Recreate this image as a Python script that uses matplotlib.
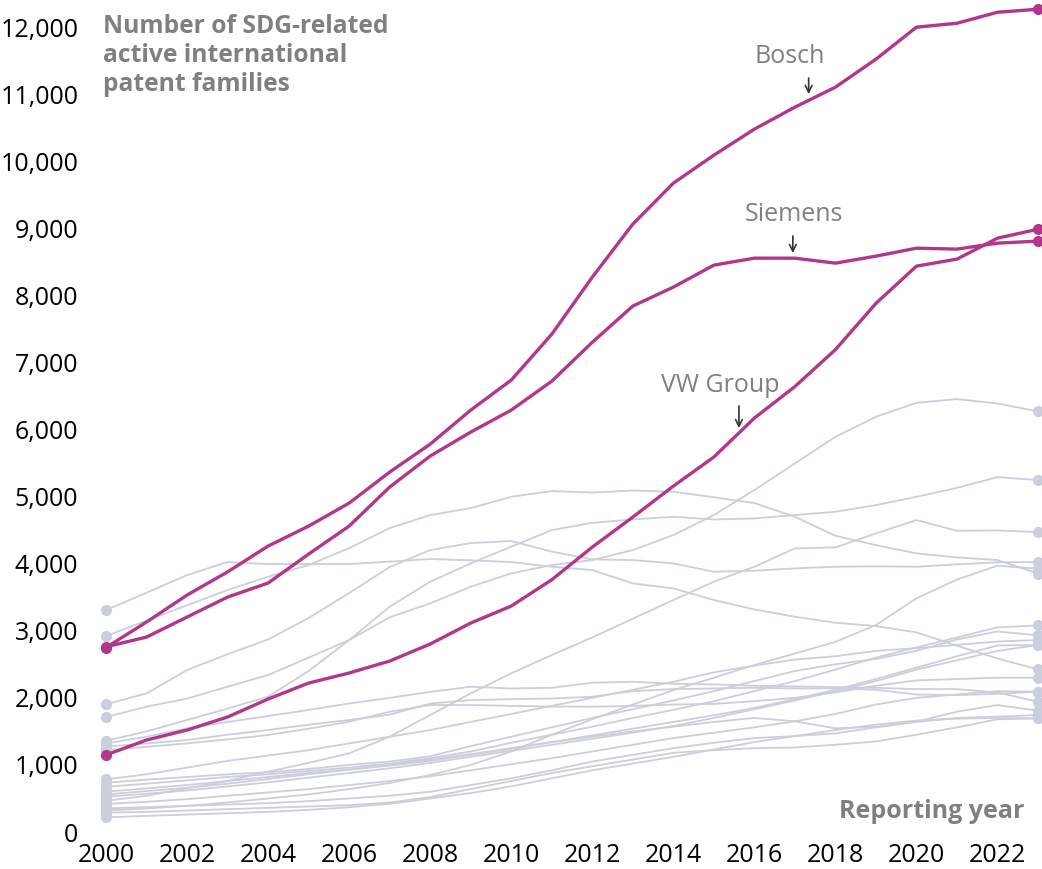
import matplotlib
matplotlib.use("Agg")
import matplotlib.pyplot as plt
import numpy as np
from matplotlib.ticker import FuncFormatter

plt.rcParams["font.family"] = ["Open Sans", "DejaVu Sans"]

years = list(range(2000, 2024))

bosch = [2750, 3130, 3532, 3877, 4262, 4560, 4903, 5365, 5782, 6289, 6736, 7420, 8270,
         9061, 9672, 10089, 10477, 10805, 11103, 11520, 11997, 12056, 12220, 12265]
siemens = [2760, 2906, 3204, 3502, 3711, 4143, 4560, 5142, 5604, 5961, 6289, 6720, 7300,
           7840, 8122, 8450, 8554, 8554, 8480, 8584, 8703, 8689, 8778, 8808]
vw_group = [1148, 1371, 1520, 1714, 1982, 2220, 2370, 2548, 2802, 3115, 3368, 3760, 4247,
            4694, 5156, 5589, 6170, 6640, 7190, 7880, 8435, 8540, 8852, 8986]

# other companies (background)
others = [
    [3308, 3567, 3830, 4024, 3994, 3994, 3994, 4030, 4069, 4050, 4024, 3954, 3905,
     3706, 3631, 3458, 3318, 3209, 3120, 3070, 2976, 2776, 2586, 2424],
    [2921, 3150, 3380, 3607, 3805, 3979, 4232, 4530, 4724, 4828, 4997, 5082, 5060,
     5090, 5072, 4990, 4903, 4699, 4415, 4277, 4153, 4093, 4054, 3852],
    [1903, 2066, 2414, 2650, 2870, 3190, 3562, 3950, 4203, 4307, 4337, 4180, 4064,
     4054, 4004, 3880, 3895, 3930, 3954, 3960, 3954, 3990, 4020, 4024],
    [1714, 1868, 1989, 2166, 2340, 2600, 2861, 3200, 3408, 3656, 3855, 3979, 4054,
     4203, 4426, 4724, 5097, 5494, 5891, 6189, 6398, 6453, 6388, 6270],
    [1361, 1500, 1669, 1840, 2017, 2400, 2861, 3358, 3731, 4004, 4252, 4501, 4609,
     4659, 4699, 4659, 4674, 4724, 4774, 4873, 4997, 5130, 5290, 5246],
    [466, 540, 650, 760, 900, 1030, 1173, 1420, 1744, 2066, 2365, 2638, 2900,
     3180, 3458, 3731, 3954, 4228, 4243, 4451, 4650, 4491, 4495, 4471],
    [320, 350, 390, 440, 500, 560, 640, 730, 850, 1000, 1200, 1450, 1680,
     1900, 2116, 2300, 2489, 2660, 2834, 3085, 3483, 3763, 3970, 3925],
    [1321, 1420, 1545, 1640, 1729, 1820, 1915, 2000, 2088, 2165, 2139, 2150, 2225,
     2240, 2210, 2200, 2180, 2170, 2160, 2150, 2130, 2130, 2080, 1942],
    [1272, 1320, 1371, 1450, 1520, 1600, 1669, 1750, 1915, 1967, 1980, 1990, 2017,
     2100, 2130, 2140, 2150, 2140, 2140, 2120, 2050, 2040, 2060, 2091],
    [1222, 1270, 1321, 1380, 1446, 1540, 1643, 1793, 1893, 1893, 1880, 1870, 1868,
     1880, 1900, 1910, 1950, 2000, 2080, 2180, 2260, 2280, 2300, 2300],
    [785, 860, 960, 1060, 1140, 1220, 1320, 1420, 1520, 1640, 1760, 1880, 2000,
     2120, 2240, 2380, 2480, 2570, 2620, 2700, 2740, 2790, 2840, 2861],
    [735, 780, 820, 860, 890, 940, 1000, 1050, 1130, 1280, 1420, 1560, 1700,
     1830, 1960, 2100, 2250, 2400, 2500, 2580, 2700, 2870, 2990, 2931],
    [675, 720, 770, 820, 860, 910, 960, 1020, 1100, 1200, 1330, 1450, 1570,
     1700, 1820, 1950, 2100, 2250, 2420, 2600, 2750, 2900, 3050, 3080],
    [601, 650, 700, 760, 820, 880, 930, 990, 1060, 1150, 1240, 1340, 1440,
     1540, 1640, 1740, 1850, 1980, 2120, 2280, 2450, 2620, 2780, 2787],
    [526, 570, 620, 680, 740, 810, 880, 950, 1030, 1120, 1210, 1300, 1390,
     1480, 1580, 1700, 1830, 1960, 2100, 2250, 2420, 2560, 2700, 2787],
    [560, 610, 660, 720, 790, 860, 930, 1000, 1080, 1160, 1250, 1340, 1420,
     1500, 1570, 1640, 1700, 1650, 1545, 1570, 1644, 1793, 1893, 1808],
    [420, 450, 490, 540, 590, 640, 700, 760, 830, 920, 1010, 1100, 1200,
     1300, 1400, 1480, 1560, 1650, 1760, 1900, 2000, 2050, 2100, 2091],
    [353, 370, 390, 410, 430, 460, 500, 540, 600, 700, 800, 920, 1050,
     1150, 1250, 1330, 1400, 1430, 1470, 1560, 1640, 1700, 1720, 1744],
    [288, 300, 320, 340, 360, 380, 400, 440, 520, 640, 760, 880, 980,
     1080, 1180, 1220, 1250, 1260, 1300, 1350, 1450, 1560, 1680, 1694],
    [219, 240, 260, 280, 300, 330, 370, 420, 500, 580, 680, 800, 920,
     1020, 1120, 1230, 1340, 1430, 1520, 1600, 1660, 1690, 1700, 1694],
]

highlight = {"Bosch": bosch, "Siemens": siemens, "VW Group": vw_group}
# label centre (year, value) and arrow (year, start value, end value)
label_pos = {"Bosch": (2016.86, 11560), "Siemens": (2016.98, 9200), "VW Group": (2015.15, 6660)}
arrow_pos = {"Bosch": (2017.34, 11240, 11000), "Siemens": (2016.95, 8885, 8630),
             "VW Group": (2015.62, 6350, 6020)}

x_ticks = list(range(2000, 2023, 2))
y_ticks = list(range(0, 12001, 1000))

MAGENTA = "#b1378c"
GREY_LINE = "#cbcedc"
GREY_TEXT = "#808080"

fig = plt.figure(figsize=(10.42, 8.69), dpi=100)
ax = fig.add_axes([106 / 1042, 37 / 869, 932 / 1042, 805 / 869])

for vals in others:
    ax.plot(years, vals, color=GREY_LINE, lw=1.3, zorder=2, clip_on=False)
    ax.plot([years[0], years[-1]], [vals[0], vals[-1]], "o", color=GREY_LINE,
            ms=7, zorder=2, clip_on=False)

for name, vals in highlight.items():
    ax.plot(years, vals, color=MAGENTA, lw=2.4, zorder=4, clip_on=False)
    ax.plot([years[0], years[-1]], [vals[0], vals[-1]], "o", color=MAGENTA,
            ms=7, zorder=5, clip_on=False)
    lx, ly = label_pos[name]
    ax.text(lx, ly, name, ha="center", va="center", fontsize=18, color=GREY_TEXT)
    axx, y0, y1 = arrow_pos[name]
    ax.annotate("", xy=(axx, y1), xytext=(axx, y0),
                arrowprops=dict(arrowstyle="->", color="#333333", lw=1.2,
                                shrinkA=0, shrinkB=0, mutation_scale=12))

ax.set_xlim(2000, 2023)
ax.set_ylim(0, 12000)
ax.set_xticks(x_ticks)
ax.set_yticks(y_ticks)
ax.yaxis.set_major_formatter(FuncFormatter(lambda v, _: f"{int(v):,}"))
ax.tick_params(axis="both", length=0, labelsize=18, colors="black")
ax.tick_params(axis="y", pad=20)
ax.tick_params(axis="x", pad=8)
for lbl in ax.get_yticklabels():
    lbl.set_horizontalalignment("right")
for s in ax.spines.values():
    s.set_visible(False)

fig.text(103 / 1042, 1 - 14 / 869,
         "Number of SDG-related\nactive international\npatent families",
         ha="left", va="top", fontsize=17.7, fontweight="bold", color=GREY_TEXT,
         linespacing=1.2)
ax.text(0.986, 0.025, "Reporting year", transform=ax.transAxes, ha="right",
        va="center", fontsize=18, fontweight="bold", color=GREY_TEXT)

fig.savefig("out.png", dpi=100)
